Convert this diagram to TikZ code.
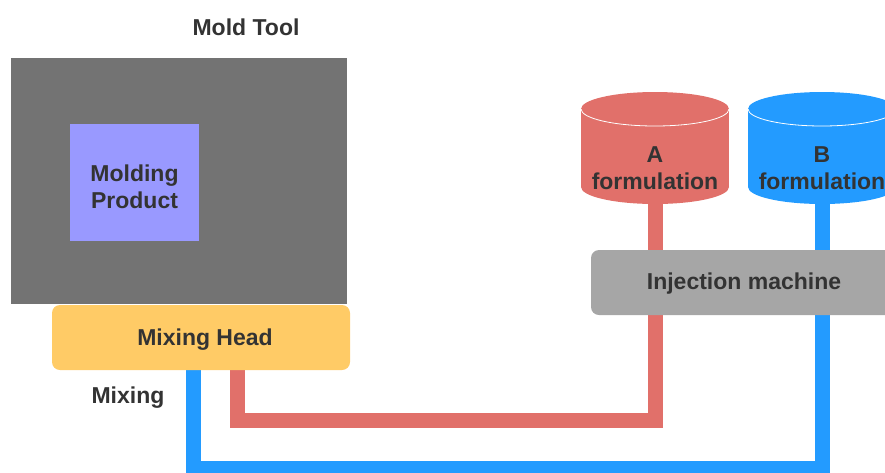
\documentclass[tikz,border=0pt]{standalone}
\usepackage{fontspec}
\setmainfont{Liberation Sans}
\usepackage{xcolor}
\usetikzlibrary{backgrounds}

\definecolor{moldgray}{HTML}{737373}
\definecolor{productblue}{HTML}{9999FF}
\definecolor{headyellow}{HTML}{FFCB66}
\definecolor{tankred}{HTML}{E1706A}
\definecolor{tankblue}{HTML}{239BFF}
\definecolor{machinegray}{HTML}{A6A6A6}
\definecolor{textgray}{HTML}{333333}

\begin{document}
\begin{tikzpicture}[x=1pt, y=-1pt,
    txt/.style={text=textgray, font=\fontsize{23}{27.5}\selectfont\bfseries, align=center},
    block/.style={txt, inner sep=0pt},
    pipe/.style={line width=15pt, line join=miter}]
    \useasboundingbox (0,0) rectangle (885,472);

    % Mold tool with product
    \node[txt] (moldtitle) at (246,27) {Mold Tool};
    \node[block, fill=moldgray, minimum width=336pt, minimum height=246pt] (mold) at (179,181) {};
    \node[block, fill=productblue, minimum width=129pt, minimum height=117pt] (product) at (134.5,182.5) {};
    \node[txt] (producttext) at (134.5,187) {Molding\\Product};

    % Mixing head
    \node[block, fill=headyellow, rounded corners=8pt, minimum width=298pt, minimum height=65pt] (head) at (201,337.5) {};
    \node[txt] (headtext) at (205,340) {Mixing Head};
    \node[txt] (mixing) at (128,398) {Mixing};

    % Tanks
    \fill[tankred] (581,109) rectangle (729,187);
    \fill[tankred] (655,187) ellipse [x radius=74, y radius=17];
    \fill[tankred] (655,109) ellipse [x radius=74, y radius=17];
    \draw[white, thick] (581,109) arc [start angle=180, end angle=0, x radius=74, y radius=17];
    \node[txt] (tankA) at (655,168) {A\\formulation};

    \fill[tankblue] (748,109) rectangle (896,187);
    \fill[tankblue] (822,187) ellipse [x radius=74, y radius=17];
    \fill[tankblue] (822,109) ellipse [x radius=74, y radius=17];
    \draw[white, thick] (748,109) arc [start angle=180, end angle=0, x radius=74, y radius=17];
    \node[txt] (tankB) at (822,168) {B\\formulation};

    % Injection machine
    \node[block, fill=machinegray, rounded corners=8pt, minimum width=306pt, minimum height=65pt] (machine) at (744,282.5) {};
    \node[txt] (machinetext) at (744,284) {Injection machine};

    % Feed lines
    \coordinate (jointA) at (237,420);
    \coordinate (jointB) at (193,468);
    \begin{pgfonlayer}{background}
        \draw[pipe, tankred] (tankA) |- (jointA) -- (jointA |- head.south);
        \draw[pipe, tankblue] (tankB) |- (jointB) -- (jointB |- head.south);
    \end{pgfonlayer}
\end{tikzpicture}
\end{document}
